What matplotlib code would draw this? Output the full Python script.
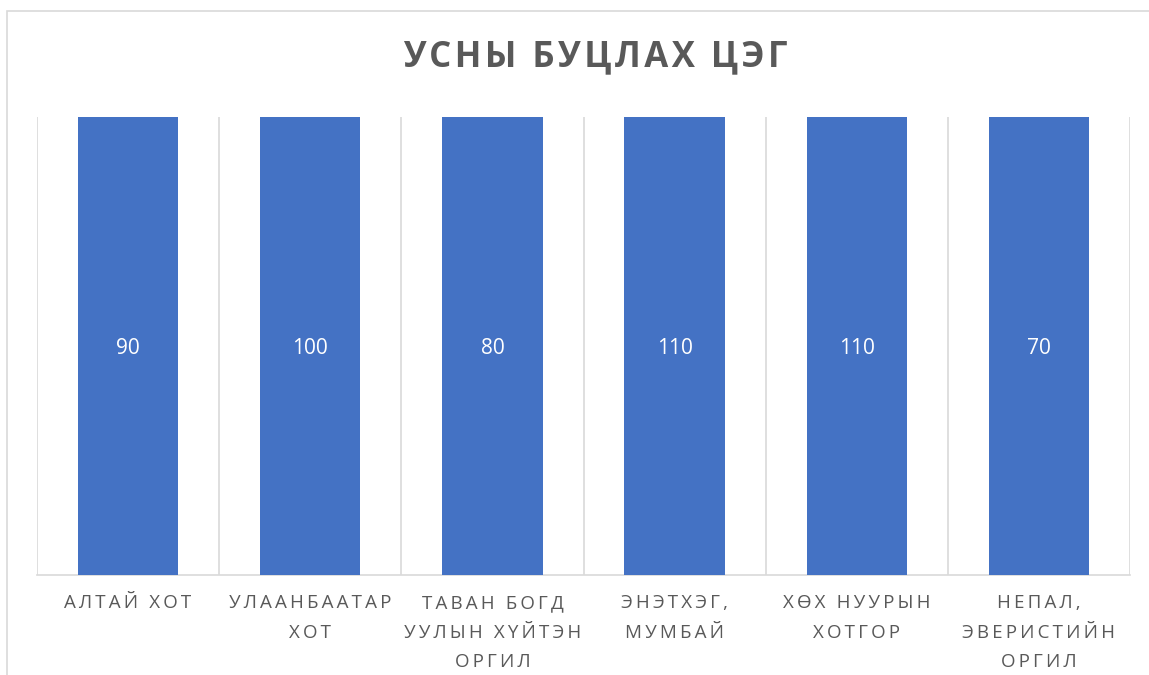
import numpy as np
import matplotlib.pyplot as plt
from matplotlib.patches import Rectangle

# data
categories = ["АЛТАЙ ХОТ", "УЛААНБААТАР\nХОТ", "ТАВАН БОГД\nУУЛЫН ХҮЙТЭН\nОРГИЛ",
              "ЭНЭТХЭГ,\nМУМБАЙ", "ХӨХ НУУРЫН\nХОТГОР", "НЕПАЛ,\nЭВЕРИСТИЙН\nОРГИЛ"]
values = [90, 100, 80, 110, 110, 70]
title = "УСНЫ БУЦЛАХ ЦЭГ"

plt.rcParams['font.family'] = ['Open Sans', 'DejaVu Sans']

def spaced(s, gap="\u2009"):
    # crude letter spacing with thin spaces
    return "\n".join(gap.join(line) for line in s.split("\n"))

vals = np.array(values, dtype=float)
share = vals / vals * 100  # 100% stacked, single series

fig = plt.figure(figsize=(11.49, 6.75), dpi=100)
fig.patches.append(Rectangle((7 / 1149, -0.1), 1.2, 1 - 11 / 675 + 0.1,
                             transform=fig.transFigure, fill=False,
                             edgecolor='#d9d9d9', linewidth=1.2))

ax = fig.add_axes([37 / 1149, 1 - 575 / 675, (1130 - 37) / 1149, (575 - 117) / 675])
x = np.arange(len(categories))
ax.bar(x, share, width=0.55, color='#4472C4', zorder=3)
for xi, s, v in zip(x, share, vals):
    ax.annotate(f"{v:g}", (xi, s / 2), xytext=(0, -2), textcoords='offset points',
                ha='center', va='center', color='white', fontsize=15, zorder=4)

ax.set_xlim(-0.5, len(categories) - 0.5)
ax.set_ylim(0, 100)
ax.set_xticks(x)
ax.set_xticklabels([spaced(c) for c in categories], fontsize=13.5, color='#595959',
                   linespacing=1.8)
ax.set_xticks(np.arange(len(categories) + 1) - 0.5, minor=True)
ax.tick_params(axis='x', which='both', length=0, pad=14)
ax.set_yticks([])
ax.grid(which='minor', axis='x', color='#d9d9d9', linewidth=1.2, zorder=0)
for side in ['top', 'left', 'right']:
    ax.spines[side].set_visible(False)
ax.spines['bottom'].set_color('#d9d9d9')
ax.spines['bottom'].set_linewidth(1.2)

fig.text(595 / 1149, 1 - 57 / 675, spaced(title, "\u200a"), ha='center', va='center',
         fontsize=25, fontweight='bold', color='#595959')

fig.savefig('out.png', dpi=100)
